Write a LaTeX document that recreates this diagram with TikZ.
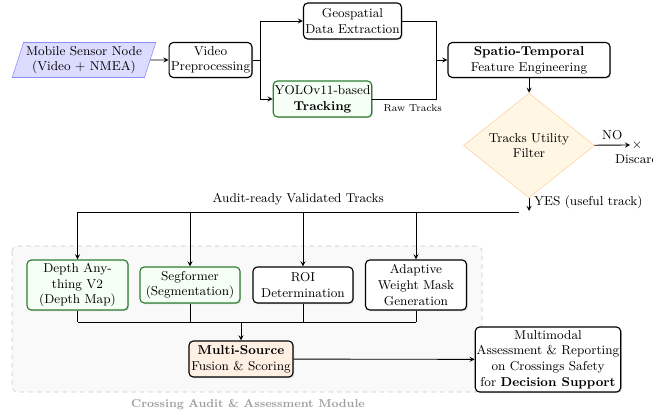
\documentclass[tikz,border=0pt]{standalone}
\usepackage{amsmath}
\usepackage{xcolor}
\usetikzlibrary{positioning}
\usetikzlibrary{arrows}
\usetikzlibrary{shapes.geometric}
\usetikzlibrary{shadows}
\definecolor{darkgreen}{RGB}{46,125,50}
\definecolor{inputblue}{HTML}{DCDCFF}
\definecolor{filtercream}{HTML}{FFF7E3}
\definecolor{fusionpeach}{HTML}{FFF0E4}
\tikzset {
  % rounded process box
  box/.style = {draw, thick, rounded corners=3pt, fill=white, align=center,
    inner sep=1pt, drop shadow={shadow xshift=.8pt, shadow yshift=-.8pt, opacity=.3}},
  % model boxes
  modelbox/.style = {box, draw=darkgreen, fill=green!4},
  % sensor input
  inputbox/.style = {draw=blue!45, fill=inputblue, trapezium, trapezium left angle=70,
    trapezium right angle=110, trapezium stretches=true, align=center, inner sep=1pt},
  % utility check
  decision/.style = {draw=orange!35, fill=filtercream, diamond, align=center, inner sep=0pt},
  fusionbox/.style = {box, fill=fusionpeach},
  % connectors
  flow/.style = {->, semithick},
  link/.style = {semithick},
  tag/.style = {font=\scriptsize},
}

\begin{document}
\begin{tikzpicture}[x=0.7pt, y=-0.7pt, >=stealth, every node/.style={font=\small}]
  \useasboundingbox (0,0) rectangle (653,415);

  % module background
  \draw[dashed, gray!45, fill=gray!5, rounded corners=4pt] (12,246) rectangle (482,392);
  \node[text=gray!75, font=\footnotesize\bfseries] (modlabel) at (248,405) {Crossing Audit \& Assessment Module};

  % acquisition and tracking
  \node[inputbox, minimum width=100.8pt, minimum height=24.5pt] (mobile) at (84,60) {Mobile Sensor Node\\(Video + NMEA)};
  \node[box, minimum width=58pt, minimum height=24.5pt] (video) at (210.5,60) {Video\\Preprocessing};
  \node[box, minimum width=68.6pt, minimum height=25.2pt] (geo) at (352.5,21) {Geospatial\\Data Extraction};
  \node[modelbox, minimum width=68.6pt, minimum height=25.2pt] (yolo) at (322.5,99) {YOLOv11-based\\\textbf{Tracking}};
  \node[box, minimum width=113.4pt, minimum height=24.5pt] (spatio) at (529,60) {\textbf{Spatio-Temporal}\\Feature Engineering};
  \node[decision, minimum width=91.7pt, minimum height=61pt] (filter) at (529,145.5) {Tracks Utility\\Filter};
  \node[inner sep=1pt] (discard) at (637,145) {$\times$};
  \node (discardlabel) [below=-1pt of discard] {Discard};

  % audit module
  \node[modelbox, minimum width=70.7pt, minimum height=35pt] (depth) at (77.5,285) {Depth Any-\\thing V2\\(Depth Map)};
  \node[modelbox, minimum width=70pt, minimum height=25.2pt] (seg) at (190,285) {Segformer\\(Segmentation)};
  \node[box, minimum width=70pt, minimum height=25.2pt] (roi) at (303,285) {ROI\\Determination};
  \node[box, minimum width=70.7pt, minimum height=35pt] (mask) at (416,285) {Adaptive\\Weight Mask\\Generation};
  \node[fusionbox, minimum width=72.8pt, minimum height=25.2pt] (fusion) at (241,359) {\textbf{Multi-Source}\\Fusion \& Scoring};
  \node[box, minimum width=100.8pt, minimum height=45.5pt] (report) at (548,359.5) {Multimodal\\Assessment \& Reporting\\on Crossings Safety\\for \textbf{Decision Support}};

  \coordinate (split) at (260,60);
  \coordinate (merge) at (436,60);
  \coordinate (yesend) at (529,211);
  \coordinate (busR) at (519,212);
  \coordinate (busL) at (77.5,212);
  \coordinate (join) at (241,322);

  \draw[flow] (mobile) -- (video);
  \draw[link] (video) -- (split);
  \draw[flow] (split) |- (geo);
  \draw[flow] (split) |- (yolo);
  \draw[link] (geo) -| (merge);
  \draw[link] (yolo) -- node[tag, below, xshift=6pt] {Raw Tracks} (yolo -| merge) -- (merge);
  \draw[flow] (merge) -- (spatio);
  \draw[flow] (spatio) -- (filter);
  \draw[flow] (filter) -- node[above] {NO} (discard);
  \draw[flow] (filter) -- node[right, pos=0.3] {YES (useful track)} (yesend);

  \draw[link] (busR) -- node[above=1pt] {Audit-ready Validated Tracks} (busL);
  \foreach \n in {depth, seg, roi, mask} {
    \draw[flow] (busL -| \n) -- (\n);
    \draw[link] (\n) -- (\n |- join);
  }
  \draw[link] (depth |- join) -- (mask |- join);
  \draw[flow] (join) -- (fusion);
  \draw[flow] (fusion) -- (report);
\end{tikzpicture}
\end{document}
